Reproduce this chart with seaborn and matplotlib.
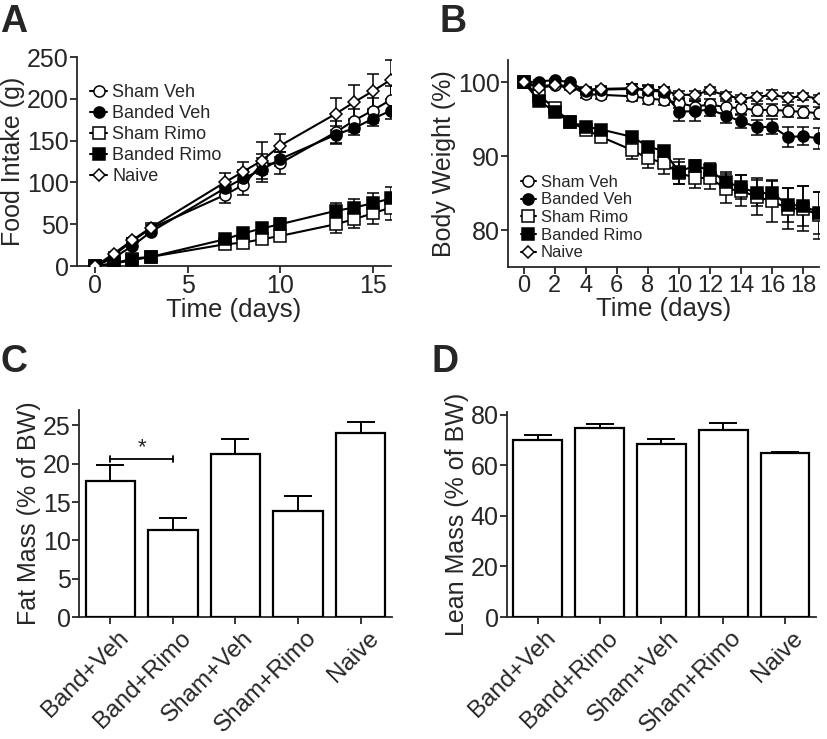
import numpy as np
import matplotlib
matplotlib.use('Agg')
import matplotlib.pyplot as plt
import matplotlib.transforms as mtransforms
import seaborn as sns

# ---- data ----
groups_line = ['Sham Veh', 'Banded Veh', 'Sham Rimo', 'Banded Rimo', 'Naive']

# panel A: cumulative food intake (g)
days_a = [0, 1, 2, 3, 7, 8, 9, 10, 13, 14, 15, 16]
food_sham_veh = [0, 13, 30, 45, 85, 97, 122, 123, 160, 174, 186, 199]
food_band_veh = [0, 10, 24, 41, 93, 105, 115, 128, 157, 165, 176, 186]
food_sham_rimo = [0, 3, 9, 11, 26, 28, 32, 36, 50, 56, 63, 70]
food_band_rimo = [0, 3, 7, 11, 32, 39, 45, 50, 66, 70, 75, 81]
food_naive = [0, 15, 31, 46, 100, 113, 126, 144, 182, 196, 209, 223]
food_err_sham_veh = [0, 2, 3, 4, 10, 12, 12, 13, 14, 14, 15, 16]
food_err_band_veh = [0, 2, 3, 4, 8, 10, 14, 8, 10, 8, 9, 10]
food_err_sham_rimo = [0, 1, 2, 2, 4, 5, 6, 6, 10, 11, 13, 15]
food_err_band_rimo = [0, 1, 2, 2, 4, 5, 6, 7, 9, 10, 12, 13]
food_err_naive = [0, 2, 3, 6, 11, 12, 22, 14, 19, 20, 21, 23]

# panel B: body weight (% of baseline)
days_b = [0, 1, 2, 3, 4, 5, 7, 8, 9, 10, 11, 12, 13, 14, 15, 16, 17, 18, 19]
bw_sham_veh = [100, 99.5, 99.6, 99.5, 98.4, 98.3, 98.1, 97.8, 97.6, 97.2, 96.7,
               97.0, 96.6, 96.5, 96.2, 96.3, 96.1, 96.0, 95.8]
bw_band_veh = [100, 100.1, 100.3, 100.0, 98.8, 99.0, 99.1, 98.9, 98.7, 96.0, 96.1,
               96.3, 95.5, 94.7, 93.9, 94.0, 92.6, 92.7, 92.4]
bw_sham_rimo = [100, 98.2, 96.5, 94.6, 93.6, 92.6, 90.8, 89.7, 89.1, 87.7, 87.1,
                87.0, 85.6, 85.3, 84.5, 83.9, 82.9, 82.9, 82.0]
bw_band_rimo = [100, 97.5, 96.0, 94.6, 94.0, 93.6, 92.6, 91.3, 90.7, 87.9, 88.7,
                88.1, 86.5, 85.8, 85.0, 85.0, 83.4, 83.3, 82.3]
bw_naive = [100, 99.2, 99.6, 99.2, 99.0, 99.1, 99.2, 99.0, 98.9, 98.3, 98.3,
            98.9, 98.2, 97.8, 98.0, 98.3, 97.9, 98.1, 97.8]
bw_err_sham_veh = [0, 0.3, 0.3, 0.3, 0.5, 0.5, 0.7, 0.7, 0.7, 0.7, 0.8,
                   0.7, 0.8, 0.8, 0.8, 0.8, 0.8, 0.8, 0.8]
bw_err_band_veh = [0, 0.2, 0.2, 0.2, 0.4, 0.4, 0.6, 0.6, 0.6, 1.2, 1.3,
                   0.9, 1.0, 0.9, 1.0, 1.0, 1.4, 1.2, 1.4]
bw_err_sham_rimo = [0, 0.4, 0.4, 0.4, 0.5, 0.6, 1.2, 1.3, 1.5, 1.5, 1.4,
                    1.5, 2.0, 2.1, 2.5, 2.8, 2.8, 3.0, 3.2]
bw_err_band_rimo = [0, 0.3, 0.3, 0.3, 0.4, 0.4, 0.5, 0.6, 0.6, 1.7, 0.8,
                    1.0, 1.3, 1.6, 1.8, 1.8, 2.3, 2.7, 2.8]
bw_err_naive = [0, 0.3, 0.3, 0.3, 0.4, 0.4, 0.6, 0.6, 0.5, 0.5, 0.5,
                0.5, 0.5, 0.5, 0.5, 0.6, 0.6, 0.5, 0.5]

# panels C/D: body composition
groups_bar = ['Band+Veh', 'Band+Rimo', 'Sham+Veh', 'Sham+Rimo', 'Naive']
fat_mass = [17.8, 11.4, 21.3, 13.8, 24.0]
fat_err = [2.0, 1.5, 1.9, 2.0, 1.4]
lean_mass = [70.0, 74.8, 68.3, 74.1, 64.7]
lean_err = [1.8, 1.3, 1.9, 2.4, 0.6]
sig_pair = (0, 1)
sig_level = 20.6

# ---- style ----
sns.set_style('ticks')
plt.rcParams['font.family'] = ['Liberation Sans', 'DejaVu Sans']
plt.rcParams['axes.linewidth'] = 1.3
plt.rcParams['xtick.major.width'] = 1.3
plt.rcParams['ytick.major.width'] = 1.3
plt.rcParams['xtick.major.size'] = 5
plt.rcParams['ytick.major.size'] = 5
plt.rcParams['xtick.direction'] = 'out'
plt.rcParams['ytick.direction'] = 'out'

markers = {
    'Sham Veh': ('o', 'white', 8),
    'Banded Veh': ('o', 'black', 8),
    'Sham Rimo': ('s', 'white', 8),
    'Banded Rimo': ('s', 'black', 8),
    'Naive': ('D', 'white', 6.5),
}

fig = plt.figure(figsize=(8.27, 7.39), dpi=100)
axA = fig.add_axes([0.0931, 0.640, 0.3797, 0.2828])
axB = fig.add_axes([0.6143, 0.6387, 0.376, 0.280])
axC = fig.add_axes([0.0955, 0.165, 0.3785, 0.280])
axD = fig.add_axes([0.613, 0.165, 0.3736, 0.2774])


def draw_lines(ax, days, series, errs):
    for name, vals, err in zip(groups_line, series, errs):
        m, fc, ms = markers[name]
        ax.errorbar(days, vals, yerr=err, fmt='none', ecolor='black',
                    elinewidth=1.1, capsize=4.5, capthick=1.1, zorder=2)
        sns.lineplot(x=days, y=vals, ax=ax, color='black', linewidth=1.5,
                     marker=m, markersize=ms, markerfacecolor=fc,
                     markeredgecolor='black', markeredgewidth=1.1,
                     label=name, zorder=3)


# panel A
draw_lines(axA, days_a,
           [food_sham_veh, food_band_veh, food_sham_rimo, food_band_rimo, food_naive],
           [food_err_sham_veh, food_err_band_veh, food_err_sham_rimo,
            food_err_band_rimo, food_err_naive])
axA.set_xlim(-1, 16)
axA.set_ylim(0, 250)
axA.set_xticks([0, 5, 10, 15])
axA.set_yticks([0, 50, 100, 150, 200, 250])
axA.set_xlabel('Time (days)', fontsize=18.5, labelpad=0)
axA.set_ylabel('Food Intake (g)', fontsize=18, labelpad=1)
axA.tick_params(labelsize=18, pad=1)
axA.legend(loc='upper left', bbox_to_anchor=(0.02, 0.905), frameon=False,
           fontsize=13, handlelength=0.9, handletextpad=0.3,
           labelspacing=0.22, borderaxespad=0)

# panel B
draw_lines(axB, days_b,
           [bw_sham_veh, bw_band_veh, bw_sham_rimo, bw_band_rimo, bw_naive],
           [bw_err_sham_veh, bw_err_band_veh, bw_err_sham_rimo,
            bw_err_band_rimo, bw_err_naive])
axB.set_xlim(-1, 19)
axB.set_ylim(75, 103)
axB.set_xticks(range(0, 19, 2))
axB.set_yticks([80, 90, 100])
axB.set_xlabel('Time (days)', fontsize=18.5, labelpad=0)
axB.set_ylabel('Body Weight (%)', fontsize=18, labelpad=1)
axB.tick_params(axis='y', labelsize=18, pad=1)
axB.tick_params(axis='x', labelsize=17, pad=1)
axB.legend(loc='lower left', bbox_to_anchor=(0.02, 0.0), frameon=False,
           fontsize=12, handlelength=0.9, handletextpad=0.3,
           labelspacing=0.16, borderaxespad=0)


def draw_bars(ax, vals, err):
    sns.barplot(x=groups_bar, y=vals, ax=ax, color='white', saturation=1,
                edgecolor='black', linewidth=1.6, width=0.79, zorder=3)
    ax.errorbar(range(len(vals)), vals, yerr=[np.zeros(len(err)), err],
                fmt='none', ecolor='black', elinewidth=1.4, capsize=10,
                capthick=1.4, zorder=2)
    ax.set_xlim(-0.5, len(vals) - 0.5)
    ax.set_xlabel('')
    ax.tick_params(axis='y', labelsize=18, pad=1)
    ax.tick_params(axis='x', labelsize=17.5, pad=2)
    shift = mtransforms.ScaledTranslation(5 / 72, 0, fig.dpi_scale_trans)
    for lab in ax.get_xticklabels():
        lab.set_rotation(45)
        lab.set_ha('right')
        lab.set_rotation_mode('anchor')
        lab.set_transform(lab.get_transform() + shift)


# panel C
draw_bars(axC, fat_mass, fat_err)
axC.set_ylim(0, 27)
axC.set_yticks([0, 5, 10, 15, 20, 25])
axC.set_ylabel('Fat Mass (% of BW)', fontsize=18, labelpad=1)
axC.plot(list(sig_pair), [sig_level, sig_level], color='black', lw=1.3)
for xi in sig_pair:
    axC.plot([xi, xi], [sig_level - 0.4, sig_level + 0.4], color='black', lw=1.3)
axC.text(np.mean(sig_pair), sig_level + 0.1, '*', ha='center', va='bottom',
         fontsize=16)

# panel D
draw_bars(axD, lean_mass, lean_err)
axD.set_ylim(0, 81)
axD.set_yticks([0, 20, 40, 60, 80])
axD.set_ylabel('Lean Mass (% of BW)', fontsize=18, labelpad=1)

for ax in [axA, axB, axC, axD]:
    sns.despine(ax=ax)

for lbl, x, y in [('A', 0.0, 0.995), ('B', 0.532, 0.995),
                  ('C', 0.0, 0.535), ('D', 0.522, 0.535)]:
    fig.text(x, y, lbl, fontsize=27, fontweight='bold', va='top', ha='left')

fig.savefig('out.png', dpi=100)
